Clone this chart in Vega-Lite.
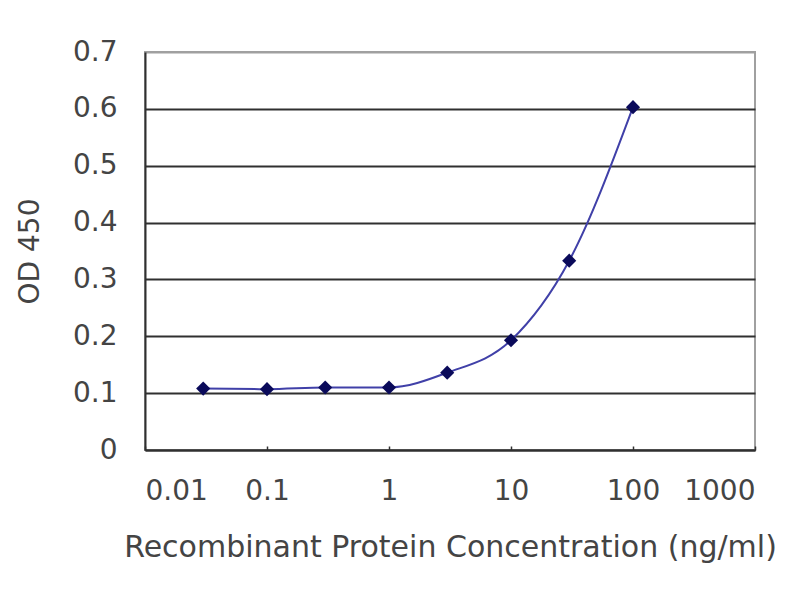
{
  "$schema": "https://vega.github.io/schema/vega-lite/v6.json",
  "autosize": {"type": "none"},
  "padding": {"left": 145, "top": 52, "right": 45, "bottom": 150},
  "width": 610,
  "height": 398,
  "background": "white",
  "config": {
    "font": "DejaVu Sans",
    "view": {"stroke": "#a0a0a0", "strokeWidth": 2}
  },
  "data": {
    "values": [
      {"conc": 0.03, "od": 0.108},
      {"conc": 0.1, "od": 0.107},
      {"conc": 0.3, "od": 0.110},
      {"conc": 1, "od": 0.110},
      {"conc": 3, "od": 0.136},
      {"conc": 10, "od": 0.193},
      {"conc": 30, "od": 0.333},
      {"conc": 100, "od": 0.603}
    ]
  },
  "encoding": {
    "x": {
      "field": "conc",
      "type": "quantitative",
      "scale": {"type": "log", "domain": [0.01, 1000], "nice": false},
      "axis": {
        "title": "Recombinant Protein Concentration (ng/ml)",
        "values": [0.01, 0.1, 1, 10, 100, 1000],
        "format": "~g",
        "grid": false,
        "domainColor": "#303030",
        "domainWidth": 2,
        "tickColor": "#303030",
        "tickSize": -4,
        "tickWidth": 1.5,
        "labelFontSize": 28,
        "labelColor": "#444444",
        "labelPadding": 31,
        "titleFontSize": 30,
        "titleColor": "#444444",
        "titleFontWeight": "normal",
        "titlePadding": 27
      }
    },
    "y": {
      "field": "od",
      "type": "quantitative",
      "scale": {"domain": [0, 0.7], "nice": false},
      "axis": {
        "title": "OD 450",
        "values": [0, 0.1, 0.2, 0.3, 0.4, 0.5, 0.6, 0.7],
        "format": "~g",
        "grid": true,
        "gridColor": {"condition": {"test": "datum.value >= 0.7", "value": "#a0a0a0"}, "value": "#303030"},
        "gridWidth": 2,
        "gridOpacity": 1,
        "ticks": false,
        "domainColor": "#303030",
        "domainWidth": 2,
        "labelFontSize": 28,
        "labelColor": "#444444",
        "labelPadding": 28,
        "titleFontSize": 28,
        "titleColor": "#444444",
        "titleFontWeight": "normal",
        "titlePadding": 28
      }
    }
  },
  "layer": [
    {
      "mark": {"type": "line", "interpolate": "monotone", "color": "#4040a8", "strokeWidth": 2}
    },
    {
      "mark": {"type": "point", "shape": "diamond", "filled": true, "color": "#0a0a5a", "opacity": 1, "size": 200}
    }
  ]
}
